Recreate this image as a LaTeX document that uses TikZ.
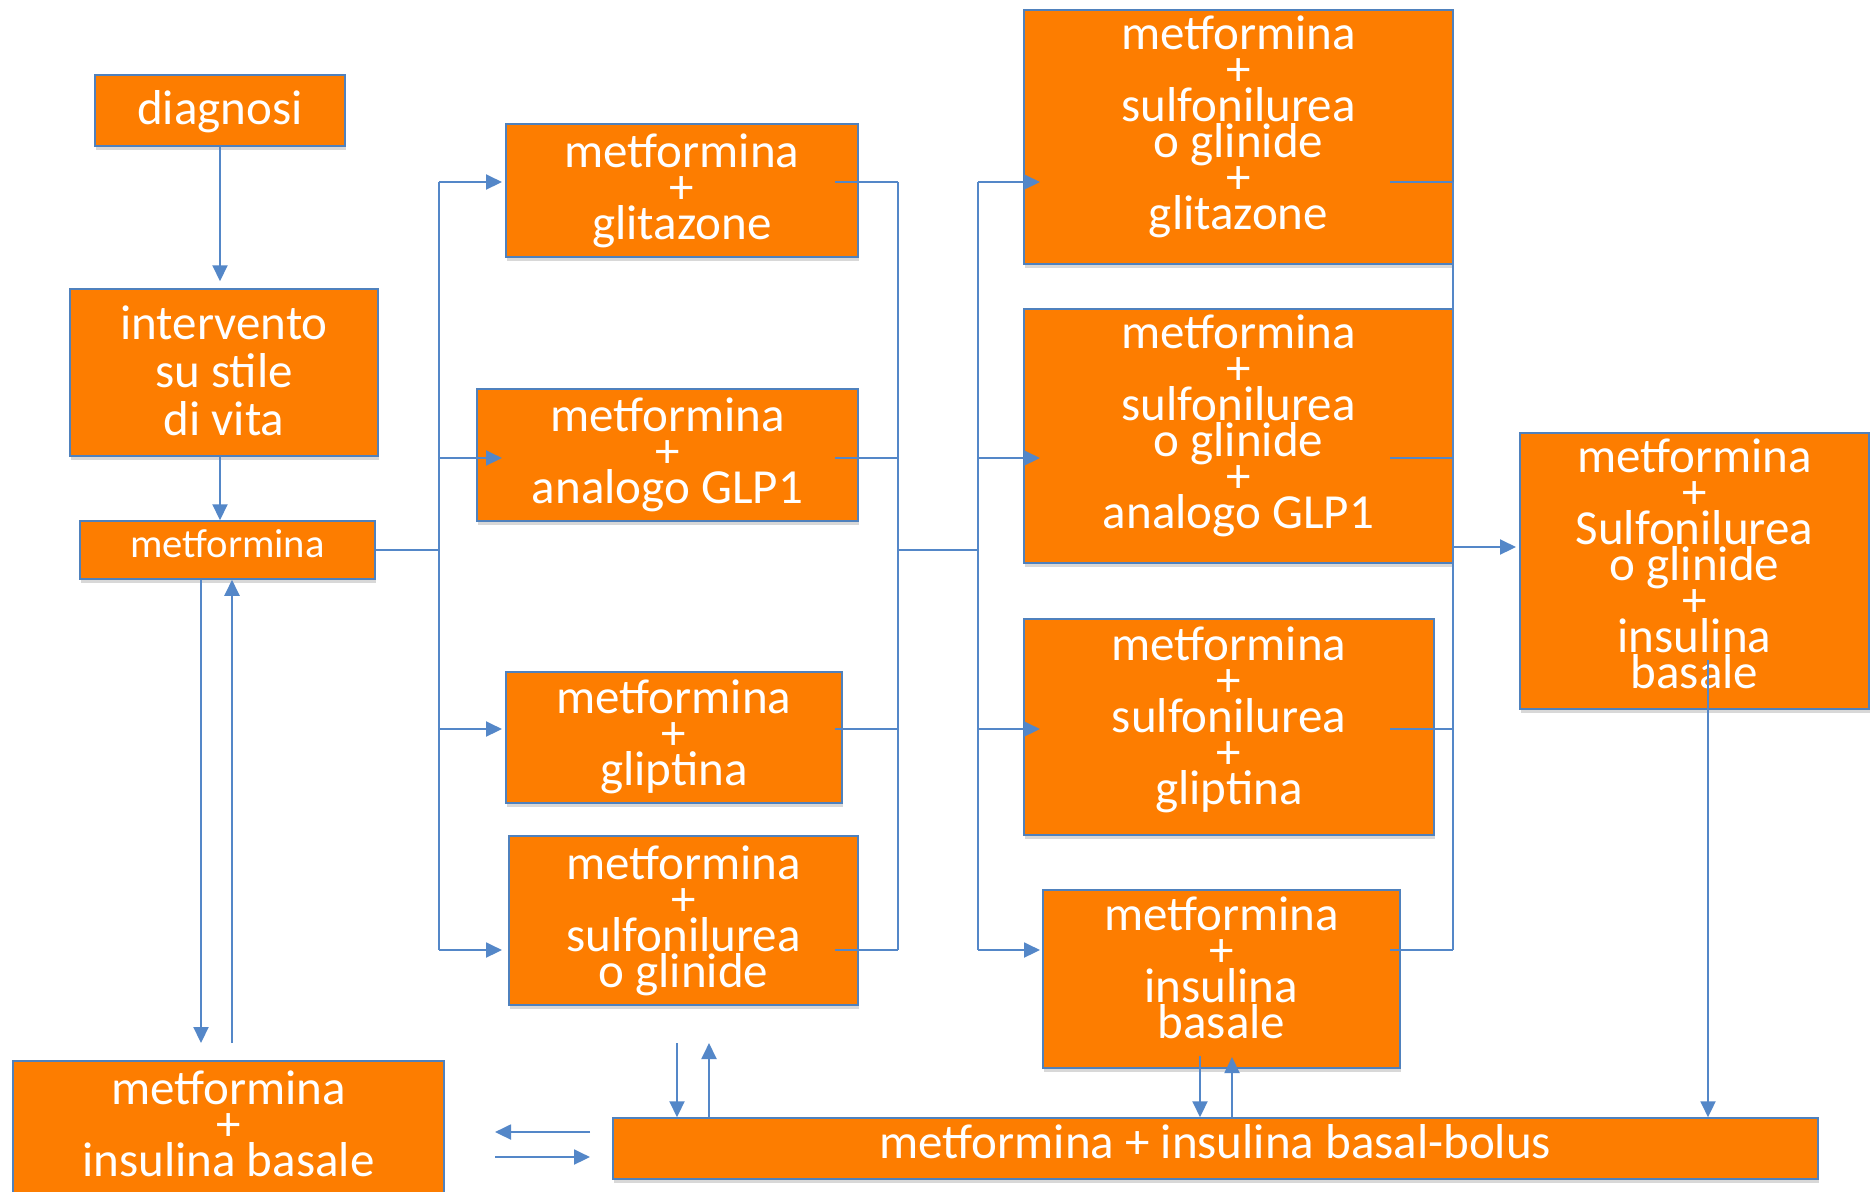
\documentclass[tikz,border=0pt]{standalone}
\usepackage{fontspec}
\setmainfont{Carlito}
\usetikzlibrary{arrows.meta,shadows}
\definecolor{boxorange}{RGB}{253,125,0}
\definecolor{boxblue}{RGB}{79,129,189}
\definecolor{lineblue}{RGB}{84,135,200}
\lineskiplimit=-100pt
\begin{document}
\begin{tikzpicture}[x=0.5pt,y=-0.5pt,
  box/.style={draw=boxblue, line width=0.75pt, fill=boxorange, inner sep=0,
    drop shadow={shadow xshift=0.6pt, shadow yshift=-1.8pt, opacity=0.3}},
  txt/.style={text=white, align=center, inner sep=0, font=\fontsize{24.5}{18}\selectfont},
  conn/.style={draw=lineblue, line width=1pt},
  arr/.style={conn, -{Triangle[length=8pt,width=7.5pt]}},
]
\useasboundingbox (0,0) rectangle (1871,1191);
\fill[white] (0,0) rectangle (1871,1191);

% boxes
\node[box, minimum width=125pt, minimum height=35.5pt] (diag) at (220,110.5) {};
\node[box, minimum width=154pt, minimum height=83.5pt] (interv) at (224,372.5) {};
\node[box, minimum width=147.5pt, minimum height=29pt] (met) at (227.5,550) {};
\node[box, minimum width=176pt, minimum height=66.5pt] (g2a) at (682,190.5) {};
\node[box, minimum width=190.5pt, minimum height=66pt] (g2b) at (667.5,455) {};
\node[box, minimum width=168pt, minimum height=65.5pt] (g2c) at (674,737.5) {};
\node[box, minimum width=174.5pt, minimum height=84.5pt] (g2d) at (683.5,920.5) {};
\node[box, minimum width=214.5pt, minimum height=127pt] (g3a) at (1238.5,137) {};
\node[box, minimum width=214.5pt, minimum height=127pt] (g3b) at (1238.5,436) {};
\node[box, minimum width=205pt, minimum height=108pt] (g3c) at (1229,727) {};
\node[box, minimum width=178.5pt, minimum height=89pt] (g3d) at (1221.5,979) {};
\node[box, minimum width=174.5pt, minimum height=138pt] (g4) at (1694.5,571) {};
\node[box, minimum width=215.5pt, minimum height=74.5pt] (bl) at (228.5,1135.5) {};
\node[box, minimum width=602.5pt, minimum height=30.5pt] (bb) at (1215.5,1148.5) {};

% texts
\node[txt] (tdiag) at (220,112) {diagnosi};
\node[txt, font=\fontsize{24.5}{24}\selectfont] (tinterv) at (224,371) {intervento\\su stile\\di vita};
\node[txt, font=\fontsize{20.3}{18}\selectfont] (tmet) at (227.5,544) {metformina};
\node[txt] (tg2a) at (682,191) {metformina\\+\\glitazone};
\node[txt] (tg2b) at (667.5,455) {metformina\\+\\analogo GLP1};
\node[txt] (tg2c) at (674,737) {metformina\\+\\gliptina};
\node[txt] (tg2d) at (683.5,921) {metformina\\+\\sulfonilurea\\o glinide};
\node[txt] (tg3a) at (1238.5,127) {metformina\\+\\sulfonilurea\\o glinide\\+\\glitazone};
\node[txt] (tg3b) at (1238.5,426) {metformina\\+\\sulfonilurea\\o glinide\\+\\analogo GLP1};
\node[txt] (tg3c) at (1229,720) {metformina\\+\\sulfonilurea\\+\\gliptina};
\node[txt] (tg3d) at (1221.5,968) {metformina\\+\\insulina\\basale};
\node[txt] (tg4) at (1694.5,564) {metformina\\+\\Sulfonilurea\\o glinide\\+\\insulina\\basale};
\node[txt] (tbl) at (228.5,1124) {metformina\\+\\insulina basale};
\node[txt] (tbb) at (1215.5,1142) {metformina + insulina basal-bolus};

% helper coordinates
\coordinate (yA) at (0,182);
\coordinate (yB) at (0,458);
\coordinate (yC) at (0,729);
\coordinate (yD) at (0,950);
\coordinate (yM) at (0,550);
\coordinate (yN) at (0,547);
\coordinate (xL) at (439,0);
\coordinate (xT2) at (502,0);
\coordinate (xE2) at (835,0);
\coordinate (xR2) at (898,0);
\coordinate (xL3) at (978,0);
\coordinate (xT3) at (1040,0);
\coordinate (xE3) at (1390,0);
\coordinate (xR3) at (1453,0);
\coordinate (xT4) at (1516,0);

% left vertical chain
\draw[arr] (diag.south) -- ([yshift=3.5pt]diag.south |- interv.north);
\draw[arr] (diag.south |- interv.south) -- (diag.south |- met.north);

% buses
\draw[conn] (met.east) -- (xL |- met.east);
\draw[conn] (xL |- yA) -- (xL |- yD);
\draw[conn] (xR2 |- yA) -- (xR2 |- yD);
\draw[conn] (xR2 |- yM) -- (xL3 |- yM);
\draw[conn] (xL3 |- yA) -- (xL3 |- yD);
\draw[conn] (xR3 |- yA) -- (xR3 |- yD);
\foreach \yy in {yA,yB,yC,yD} {
  \draw[arr] (xL |- \yy) -- (xT2 |- \yy);
  \draw[conn] (xE2 |- \yy) -- (xR2 |- \yy);
  \draw[arr] (xL3 |- \yy) -- (xT3 |- \yy);
  \draw[conn] (xE3 |- \yy) -- (xR3 |- \yy);
}
\draw[arr] (xR3 |- yN) -- (xT4 |- yN);

% right box down to basal-bolus
\coordinate (r0) at (1708,660);
\draw[arr] (r0) -- (r0 |- bb.north);

% g3d <-> bb
\coordinate (d1) at (1200,1056);
\coordinate (u1) at (1232,1057);
\draw[arr] (d1) -- (d1 |- bb.north);
\draw[arr] (u1 |- bb.north) -- (u1);

% g2d <-> bb
\coordinate (d2) at (677,1043);
\coordinate (u2) at (709,1043);
\draw[arr] (d2) -- (d2 |- bb.north);
\draw[arr] (u2 |- bb.north) -- (u2);

% met <-> bl
\coordinate (d3) at (201,1043);
\coordinate (u3) at (232,1043);
\draw[arr] (d3 |- met.south) -- (d3);
\draw[arr] (u3) -- (u3 |- met.south);

% bl <-> bb
\coordinate (h1) at (590,1132);
\coordinate (h2) at (495,1132);
\coordinate (h3) at (495,1157);
\coordinate (h4) at (590,1157);
\draw[arr] (h1) -- (h2);
\draw[arr] (h3) -- (h4);
\end{tikzpicture}
\end{document}
